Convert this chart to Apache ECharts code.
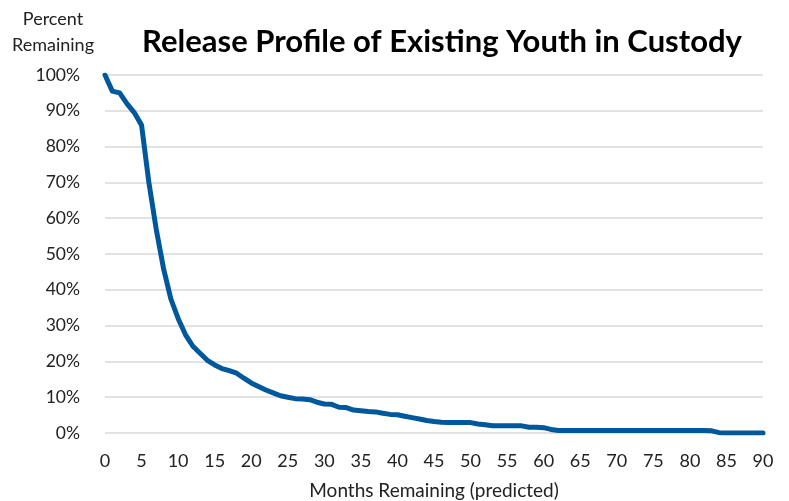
<!DOCTYPE html>
<html>
<head>
<meta charset="utf-8">
<script src="https://cdn.jsdelivr.net/npm/echarts@6/dist/echarts.min.js"></script>
<style>html,body{margin:0;padding:0;background:#fff}#c{width:789px;height:501px}</style>
</head>
<body>
<div id="c"></div>
<script>
var months = [];
for (var i = 0; i <= 90; i++) months.push(i);
var percentRemaining = [
  100, 95.5, 95.0, 92.0, 89.5, 86.0, 70.0, 57.0, 46.0, 37.5,
  32.0, 27.5, 24.3, 22.3, 20.3, 19.0, 18.0, 17.4, 16.7, 15.3,
  14.0, 13.0, 12.0, 11.2, 10.4, 10.0, 9.6, 9.5, 9.3, 8.6,
  8.1, 8.0, 7.2, 7.1, 6.4, 6.2, 6.0, 5.9, 5.5, 5.2,
  5.1, 4.7, 4.3, 3.9, 3.5, 3.2, 3.0, 2.9, 2.9, 2.9,
  2.9, 2.5, 2.3, 2.0, 2.0, 2.0, 2.0, 2.0, 1.6, 1.6,
  1.5, 1.0, 0.7, 0.7, 0.7, 0.7, 0.7, 0.7, 0.7, 0.7,
  0.7, 0.7, 0.7, 0.7, 0.7, 0.7, 0.7, 0.7, 0.7, 0.7,
  0.7, 0.7, 0.7, 0.6, 0.1, 0, 0, 0, 0, 0,
  0
];
var titleText = 'Release Profile of Existing Youth in Custody';
var yTitle = 'Percent\nRemaining';
var xTitle = 'Months Remaining (predicted)';

var chart = echarts.init(document.getElementById('c'), null, {renderer: 'canvas'});
var font = 'Lato, Carlito, "Noto Sans", sans-serif';
chart.setOption({
  animation: false,
  backgroundColor: '#fff',
  textStyle: {fontFamily: font},
  title: {
    text: titleText,
    left: 437, top: 21, textAlign: 'center',
    textStyle: {fontFamily: font, fontSize: 31, fontWeight: 'bold', color: '#000'}
  },
  graphic: [{
    type: 'text', x: 53, y: 6,
    style: {text: yTitle, textAlign: 'center', font: '18px ' + font, fill: '#222', lineHeight: 26}
  }],
  grid: {left: 105, right: 26, top: 75, bottom: 68, containLabel: false, outerBoundsMode: 'none'},
  xAxis: {
    type: 'value', min: 0, max: 90, interval: 5,
    name: xTitle, nameLocation: 'middle', nameGap: 48,
    nameTextStyle: {fontSize: 19, color: '#222', fontFamily: font},
    axisLine: {show: false}, axisTick: {show: false},
    splitLine: {show: false},
    axisLabel: {fontSize: 18, color: '#222', margin: 19, fontFamily: font}
  },
  yAxis: {
    type: 'value', min: 0, max: 100, interval: 10,
    axisLine: {show: false}, axisTick: {show: false},
    splitLine: {show: true, lineStyle: {color: '#d9d9d9', width: 1.5}},
    axisLabel: {fontSize: 17.5, color: '#222', margin: 25, formatter: '{value}%', fontFamily: font}
  },
  series: [{
    type: 'line',
    data: months.map(function (m, i) { return [m, percentRemaining[i]]; }),
    showSymbol: false, smooth: false,
    lineStyle: {color: '#00589c', width: 5, cap: 'round', join: 'round'},
    itemStyle: {color: '#00589c'}
  }]
});
</script>
</body>
</html>
